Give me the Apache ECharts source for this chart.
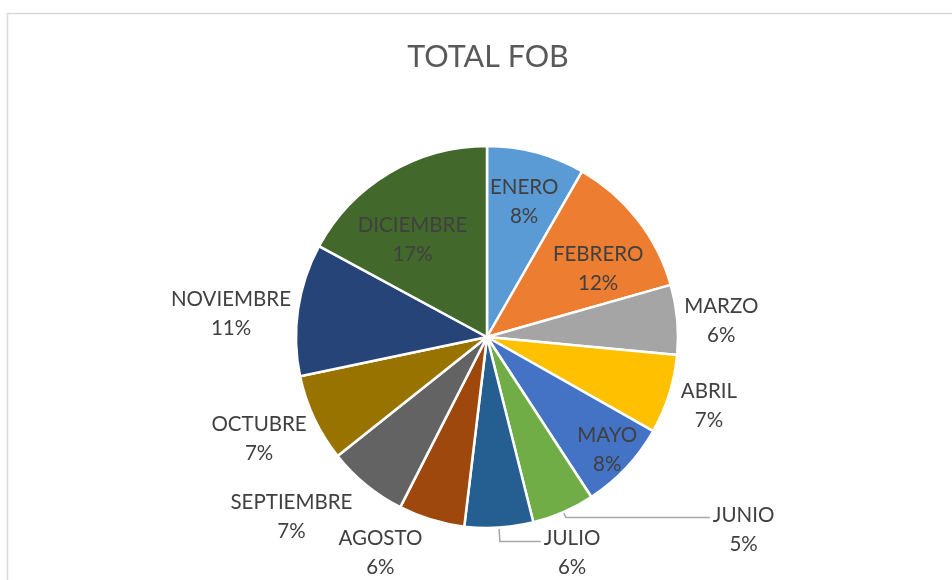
<!DOCTYPE html>
<html>
<head>
<meta charset="utf-8">
<title>TOTAL FOB</title>
<script src="https://cdn.jsdelivr.net/npm/echarts@6/dist/echarts.min.js"></script>
<style>
  html, body { margin: 0; padding: 0; background: #fff; }
  #chart { width: 952px; height: 580px; }
</style>
</head>
<body>
<div id="chart"></div>
<script>
// datos (porcentaje del total FOB)
const months = ['ENERO', 'FEBRERO', 'MARZO', 'ABRIL', 'MAYO', 'JUNIO', 'JULIO',
  'AGOSTO', 'SEPTIEMBRE', 'OCTUBRE', 'NOVIEMBRE', 'DICIEMBRE']
const shares = [8.3, 12.3, 5.9, 6.7, 7.6, 5.3, 5.8, 5.6, 6.8, 7.4, 11.2, 17.1]
const colors = ['#5B9BD5', '#ED7D31', '#A5A5A5', '#FFC000', '#4472C4', '#70AD47',
  '#255E91', '#9E480E', '#636363', '#997300', '#264478', '#43682B']
const insideMonths = ['ENERO', 'FEBRERO', 'MAYO', 'DICIEMBRE']

const FONT = 'Lato, "Open Sans", sans-serif'
const CX = 487
const CY = 337
const R = 191

const textRich = {
  c: { align: 'center', fontSize: 20.5, lineHeight: 29, color: '#404040', fontFamily: FONT }
}

// etiquetas de fuera: [largo linea, largo2, ver linea, relleno arriba]
const leader = {
  MARZO: [4, 0, false, 4],
  ABRIL: [9, 0, false, 18],
  JUNIO: [6, 144, true, 24],
  JULIO: [14, 41, true, 22],
  AGOSTO: [21, 0, false, 26],
  SEPTIEMBRE: [17, 0, false, 38],
  OCTUBRE: [5, 0, false, 36],
  NOVIEMBRE: [4, 0, false, 10]
}

// etiquetas de dentro: [radio px, relleno arriba, relleno derecha]
const insideLabel = {
  ENERO: [141, 8, 0],
  FEBRERO: [138, 38, 0],
  MAYO: [162, 0, 0],
  DICIEMBRE: [123, 22, 20]
}

const chart = echarts.init(document.getElementById('chart'))

const mainData = months.map((m, i) => {
  const inside = insideMonths.includes(m)
  const l = leader[m] || [0, 0, false, 0]
  return {
    name: m,
    value: shares[i],
    itemStyle: { color: colors[i] },
    label: { show: !inside, padding: [l[3], 0, 0, 0] },
    labelLine: { show: l[2], length: l[0], length2: l[1] }
  }
})

// una serie transparente por cada etiqueta interior
const overlaySeries = insideMonths.map(name => {
  const cfg = insideLabel[name]
  return {
    name: 'etiqueta ' + name,
    type: 'pie',
    center: [CX, CY],
    radius: [0, cfg[0] * 2],
    startAngle: 90,
    clockwise: true,
    percentPrecision: 0,
    silent: true,
    avoidLabelOverlap: false,
    labelLayout: { hideOverlap: false },
    itemStyle: { color: 'rgba(0,0,0,0)', borderWidth: 0 },
    emphasis: { disabled: true },
    label: {
      position: 'inside',
      formatter: '{c|{b}}\n{c|{d}%}',
      rich: textRich
    },
    labelLine: { show: false },
    data: months.map((m, i) => ({
      name: m,
      value: shares[i],
      label: { show: m === name, padding: [cfg[1], cfg[2], 0, 0] }
    }))
  }
})

chart.setOption({
  animation: false,
  graphic: [
    {
      type: 'rect',
      shape: { x: 7.5, y: 13.5, width: 1200, height: 1200 },
      style: { fill: 'none', stroke: '#D9D9D9', lineWidth: 1.5 },
      silent: true
    },
    {
      type: 'text',
      x: 488,
      y: 57,
      style: {
        text: 'TOTAL FOB',
        align: 'center',
        verticalAlign: 'middle',
        fontSize: 30.5,
        fontFamily: FONT,
        fill: '#595959'
      },
      silent: true
    }
  ],
  series: [
    {
      name: 'TOTAL FOB',
      type: 'pie',
      center: [CX, CY],
      radius: [0, R],
      startAngle: 90,
      clockwise: true,
      percentPrecision: 0,
      avoidLabelOverlap: false,
      labelLayout: { hideOverlap: false },
      itemStyle: { borderColor: '#fff', borderWidth: 2.5 },
      emphasis: { disabled: true },
      label: {
        position: 'outside',
        formatter: '{c|{b}}\n{c|{d}%}',
        rich: textRich,
        distanceToLabelLine: 3
      },
      labelLine: {
        lineStyle: { color: '#A6A6A6', width: 1.5 },
        smooth: false
      },
      data: mainData
    }
  ].concat(overlaySeries)
})
</script>
</body>
</html>
